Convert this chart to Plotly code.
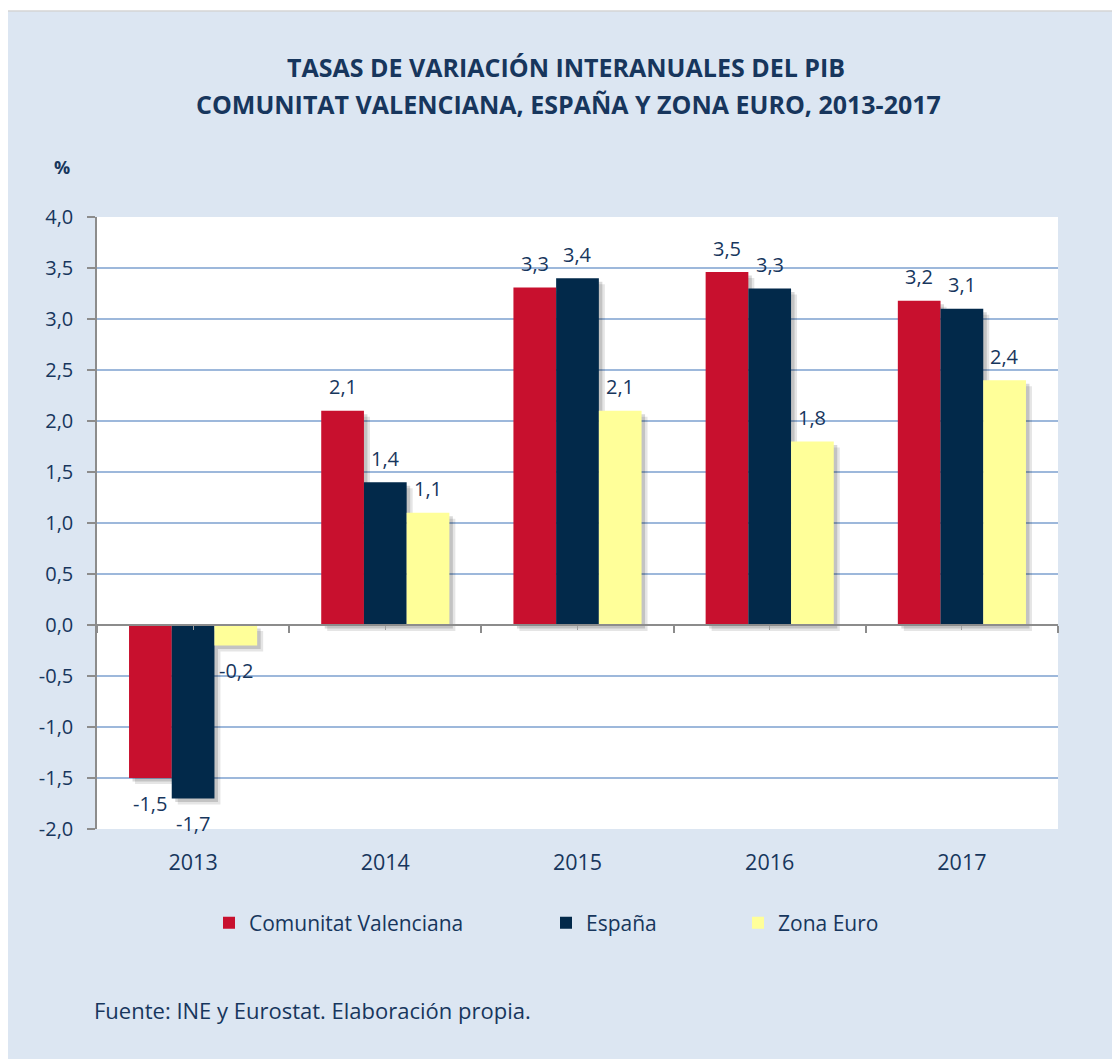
import plotly.graph_objects as go

years = ["2013", "2014", "2015", "2016", "2017"]
series_names = ["Comunitat Valenciana", "España", "Zona Euro"]
cv = [-1.5, 2.1, 3.31, 3.46, 3.18]
es = [-1.7, 1.4, 3.4, 3.3, 3.1]
ez = [-0.2, 1.1, 2.1, 1.8, 2.4]
colors = ["#C8102E", "#02294A", "#FFFF99"]
y_ticks = [-2.0, -1.5, -1.0, -0.5, 0.0, 0.5, 1.0, 1.5, 2.0, 2.5, 3.0, 3.5, 4.0]

FONT = "Open Sans"
TXT = "#17365D"
BG = "#DCE6F2"

# page has an 8px body margin; figure is sized to fill the rest
OFF = 8
W, H = 1120 - OFF, 1059 - OFF
ML, MT = 97 - OFF, 217 - OFF
MR, MB = W - (1058 - OFF), H - (829 - OFF)
PW, PH = W - ML - MR, H - MT - MB


def px_x(p):  # reference-page x pixel -> paper fraction
    return (p - OFF - ML) / PW


def px_y(p):  # reference-page y pixel -> paper fraction
    return (H - MB - (p - OFF)) / PH


data = [cv, es, ez]
xs = list(range(len(years)))
bw = 2 / 9  # bar width in category units (gap 1/3)
offsets = [-1.5 * bw, -0.5 * bw, 0.5 * bw]
unit_y = PH / 6
unit_x = PW / 5

fig = go.Figure()

# soft drop shadows (primary subplot, beneath the bars)
for shift, alpha in [(6, 0.10), (3.5, 0.15)]:
    for vals, off in zip(data, offsets):
        fig.add_trace(go.Bar(
            x=xs, y=vals, base=-shift / unit_y,
            offset=off + shift / unit_x, width=bw,
            marker=dict(color=f"rgba(0,0,0,{alpha})", line=dict(width=0)),
            showlegend=False, hoverinfo="skip", xaxis="x", yaxis="y",
        ))

legends = ["legend", "legend2", "legend3"]
for name, vals, off, col, lg in zip(series_names, data, offsets, colors, legends):
    fig.add_trace(go.Bar(
        x=xs, y=vals, name=name, offset=off, width=bw,
        marker=dict(color=col, line=dict(width=0)),
        xaxis="x2", yaxis="y", legend=lg,
    ))

annotations = []
for vals, off in zip(data, offsets):
    for xi, v in zip(xs, vals):
        annotations.append(dict(
            x=xi + off + bw / 2, y=v, xref="x", yref="y",
            text=f"{v:.1f}".replace(".", ","), showarrow=False,
            yshift=24 if v >= 0 else -25,
            font=dict(family=FONT, size=20, color=TXT),
        ))

annotations += [
    dict(text="<b>TASAS DE VARIACIÓN INTERANUALES DEL PIB</b>", x=px_x(566), y=px_y(67),
         xref="paper", yref="paper", showarrow=False, xanchor="center", yanchor="middle",
         font=dict(family=FONT, size=25, color=TXT)),
    dict(text="<b>COMUNITAT VALENCIANA, ESPAÑA Y ZONA EURO, 2013-2017</b>", x=px_x(568), y=px_y(104),
         xref="paper", yref="paper", showarrow=False, xanchor="center", yanchor="middle",
         font=dict(family=FONT, size=25, color=TXT)),
    dict(text="<b>%</b>", x=px_x(62), y=px_y(167), xref="paper", yref="paper",
         showarrow=False, xanchor="center", yanchor="middle",
         font=dict(family=FONT, size=18, color=TXT)),
    dict(text="Fuente: INE y Eurostat. Elaboración propia.", x=px_x(92), y=px_y(1010),
         xref="paper", yref="paper", showarrow=False, xanchor="left", yanchor="middle",
         font=dict(family=FONT, size=22, color=TXT)),
]

shapes = [
    dict(type="rect", xref="paper", yref="paper", x0=px_x(0), x1=px_x(1130), y0=px_y(0), y1=px_y(11),
         fillcolor="white", line=dict(width=0), layer="below"),
    dict(type="line", xref="paper", yref="paper", x0=px_x(0), x1=px_x(1130), y0=px_y(11), y1=px_y(11),
         line=dict(color="#D4D4D4", width=1.5)),
]

leg_centers = [230, 567, 759]
legend_cfg = {}
for lg, c in zip(legends, leg_centers):
    legend_cfg[lg] = dict(
        x=px_x(c - 21), y=px_y(923), xanchor="left", yanchor="middle",
        orientation="h", bgcolor="rgba(0,0,0,0)", borderwidth=0,
        font=dict(family=FONT, size=21, color=TXT),
    )

fig.update_layout(
    width=W, height=H,
    margin=dict(l=ML, r=MR, t=MT, b=MB, pad=0),
    paper_bgcolor=BG, plot_bgcolor="white",
    barmode="overlay",
    font=dict(family=FONT, color=TXT),
    showlegend=True,
    xaxis=dict(
        range=[-0.5, 4.5], tickmode="array", tickvals=xs, ticktext=years,
        showgrid=False, zeroline=False, showline=False, ticks="",
        ticklabelstandoff=18, tickfont=dict(family=FONT, size=21.5, color=TXT),
    ),
    xaxis2=dict(
        range=[-0.5, 4.5], overlaying="x", anchor="free", position=1 / 3,
        showgrid=False, zeroline=False, showline=True, linecolor="#8C8C8C", linewidth=1.5,
        tickmode="array", tickvals=[x + 0.5 for x in [-1] + xs], ticks="outside",
        ticklen=7, tickwidth=1.5, tickcolor="#8C8C8C", showticklabels=False,
        minor=dict(tickvals=xs, ticks="outside", ticklen=4, tickwidth=1, tickcolor="#A0A0A0"),
        side="bottom",
    ),
    yaxis=dict(
        range=[-2, 4], tickmode="array", tickvals=y_ticks,
        ticktext=[f"{v:.1f}".replace(".", ",") for v in y_ticks],
        showgrid=True, gridcolor="#9DB8DB", gridwidth=1.5,
        zeroline=False, showline=True, linecolor="#8C8C8C", linewidth=1.5,
        ticks="outside", ticklen=8, tickwidth=1.5, tickcolor="#8C8C8C",
        ticklabelstandoff=10, tickfont=dict(family=FONT, size=20, color=TXT),
    ),
    annotations=annotations,
    shapes=shapes,
    **legend_cfg,
)

fig.write_html("out.html")
